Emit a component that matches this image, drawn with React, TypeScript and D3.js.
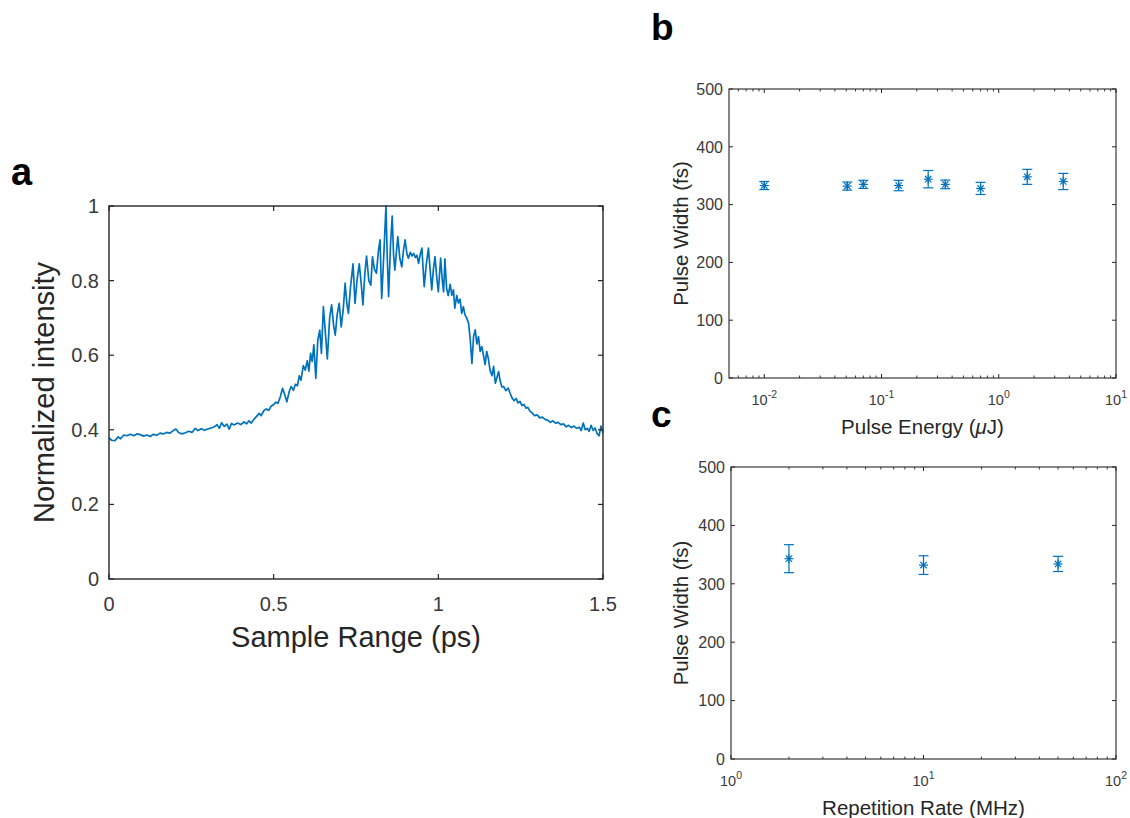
import React from "react";
import * as d3 from "d3";

// ---------- Panel a: autocorrelation trace ----------
const traceX = [
  0.000, 0.008, 0.018, 0.028, 0.035, 0.045, 0.055, 0.065, 0.075, 0.085,
  0.095, 0.105, 0.115, 0.125, 0.135, 0.145, 0.155, 0.165, 0.175, 0.185,
  0.195, 0.203, 0.212, 0.222, 0.232, 0.242, 0.252, 0.262, 0.270, 0.280,
  0.290, 0.300, 0.310, 0.320, 0.328, 0.335, 0.342, 0.350, 0.358, 0.365,
  0.372, 0.380, 0.390, 0.400, 0.410, 0.418, 0.425, 0.432, 0.440, 0.448,
  0.456, 0.462, 0.470, 0.478, 0.485, 0.492, 0.500, 0.507, 0.513, 0.520,
  0.527, 0.533, 0.540, 0.547, 0.553, 0.560, 0.566, 0.572, 0.578, 0.583,
  0.590, 0.596, 0.602, 0.607, 0.612, 0.617, 0.622, 0.628, 0.634, 0.640,
  0.645, 0.651, 0.657, 0.663, 0.670, 0.676, 0.682, 0.687, 0.693, 0.699,
  0.705, 0.711, 0.717, 0.722, 0.727, 0.733, 0.741, 0.747, 0.753, 0.760,
  0.766, 0.771, 0.777, 0.782, 0.789, 0.795, 0.800, 0.806, 0.812, 0.818,
  0.823, 0.828, 0.835, 0.841, 0.845, 0.849, 0.855, 0.860, 0.864, 0.868,
  0.873, 0.877, 0.883, 0.889, 0.894, 0.899, 0.905, 0.909, 0.915, 0.920,
  0.925, 0.930, 0.935, 0.940, 0.945, 0.950, 0.957, 0.963, 0.970, 0.975,
  0.980, 0.985, 0.990, 0.995, 1.000, 1.007, 1.012, 1.016, 1.020, 1.025,
  1.030, 1.036, 1.041, 1.046, 1.050, 1.056, 1.061, 1.066, 1.071, 1.076,
  1.081, 1.086, 1.092, 1.097, 1.102, 1.107, 1.112, 1.117, 1.122, 1.127,
  1.132, 1.137, 1.142, 1.147, 1.152, 1.157, 1.163, 1.168, 1.173, 1.178,
  1.183, 1.188, 1.193, 1.198, 1.205, 1.212, 1.218, 1.224, 1.230, 1.236,
  1.242, 1.248, 1.254, 1.260, 1.266, 1.272, 1.278, 1.285, 1.292, 1.300,
  1.308, 1.316, 1.324, 1.332, 1.340, 1.348, 1.356, 1.364, 1.372, 1.380,
  1.388, 1.396, 1.404, 1.412, 1.420, 1.428, 1.434, 1.440, 1.446, 1.452,
  1.458, 1.464, 1.470, 1.476, 1.482, 1.488, 1.494, 1.500,
];
const traceY = [
  0.378, 0.372, 0.371, 0.381, 0.376, 0.386, 0.384, 0.388, 0.384, 0.389,
  0.387, 0.383, 0.386, 0.382, 0.388, 0.385, 0.391, 0.389, 0.393, 0.391,
  0.398, 0.402, 0.392, 0.389, 0.392, 0.396, 0.393, 0.404, 0.398, 0.403,
  0.399, 0.402, 0.405, 0.408, 0.414, 0.404, 0.419, 0.409, 0.415, 0.402,
  0.417, 0.413, 0.418, 0.414, 0.421, 0.416, 0.424, 0.418, 0.428, 0.436,
  0.444, 0.438, 0.451, 0.456, 0.452, 0.463, 0.468, 0.474, 0.471, 0.488,
  0.511, 0.496, 0.475, 0.502, 0.516, 0.506, 0.522, 0.518, 0.545, 0.533,
  0.572, 0.560, 0.585, 0.557, 0.605, 0.583, 0.628, 0.538, 0.640, 0.667,
  0.605, 0.730, 0.660, 0.590, 0.700, 0.735, 0.680, 0.654, 0.710, 0.739,
  0.676, 0.720, 0.793, 0.740, 0.712, 0.780, 0.845, 0.739, 0.800, 0.845,
  0.790, 0.735, 0.820, 0.866, 0.800, 0.788, 0.864, 0.830, 0.820, 0.880,
  0.909, 0.752, 0.880, 1.000, 0.860, 0.757, 0.900, 0.973, 0.870, 0.828,
  0.880, 0.918, 0.860, 0.837, 0.880, 0.909, 0.870, 0.860, 0.876, 0.866,
  0.873, 0.862, 0.868, 0.846, 0.870, 0.887, 0.784, 0.840, 0.887, 0.830,
  0.775, 0.830, 0.864, 0.810, 0.770, 0.860, 0.800, 0.770, 0.858, 0.780,
  0.760, 0.790, 0.761, 0.775, 0.726, 0.760, 0.740, 0.750, 0.712, 0.730,
  0.708, 0.700, 0.685, 0.640, 0.578, 0.650, 0.668, 0.630, 0.650, 0.610,
  0.623, 0.600, 0.575, 0.610, 0.590, 0.560, 0.545, 0.570, 0.525, 0.540,
  0.556, 0.530, 0.515, 0.516, 0.505, 0.512, 0.498, 0.485, 0.478, 0.484,
  0.472, 0.476, 0.465, 0.468, 0.458, 0.460, 0.450, 0.445, 0.438, 0.440,
  0.432, 0.434, 0.428, 0.426, 0.420, 0.424, 0.418, 0.420, 0.414, 0.416,
  0.408, 0.412, 0.406, 0.410, 0.404, 0.407, 0.398, 0.418, 0.400, 0.404,
  0.396, 0.412, 0.398, 0.405, 0.390, 0.384, 0.410, 0.392,
];
const aXTicks = [0, 0.5, 1, 1.5];
const aXTickLabels = ["0", "0.5", "1", "1.5"];
const aYTicks = [0, 0.2, 0.4, 0.6, 0.8, 1];
const aYTickLabels = ["0", "0.2", "0.4", "0.6", "0.8", "1"];

// ---------- Panel b: pulse width vs pulse energy ----------
const energyUJ = [0.01, 0.051, 0.07, 0.14, 0.25, 0.35, 0.7, 1.75, 3.55];
const energyWidthFs = [333, 332, 335, 333, 344, 335, 328, 348, 340];
const energyErrFs = [7, 7, 7, 9, 15, 7.5, 10.5, 13, 14];

// ---------- Panel c: pulse width vs repetition rate ----------
const repRateMHz = [2, 10, 50];
const repWidthFs = [343, 332, 334];
const repErrFs = [24, 16, 13];

const widthTicks = [0, 100, 200, 300, 400, 500];
const bXDecades = [-2, -1, 0, 1];
const cXDecades = [0, 1, 2];

const BLUE = "#0072BD";
const AXIS = "#262626";
const TICKTXT = "#3a3a3a";
const FONT = "'Liberation Sans', Arial, Helvetica, sans-serif";

function PanelA() {
  const x = d3.scaleLinear().domain([0, 1.5]).range([109, 603]);
  const y = d3.scaleLinear().domain([0, 1]).range([579, 206]);
  const pts: [number, number][] = traceX.map((v, i) => [v, traceY[i]]);
  const line = d3
    .line<[number, number]>()
    .x((d) => x(d[0]))
    .y((d) => y(d[1]));
  const [x0, x1] = x.range();
  const [y0, y1] = y.range();
  const tl = 5;
  return (
    <g>
      <path d={line(pts) || ""} fill="none" stroke={BLUE} strokeWidth={1.7} strokeLinejoin="round" />
      <rect x={x0} y={y1} width={x1 - x0} height={y0 - y1} fill="none" stroke={AXIS} strokeWidth={1.4} />
      {aXTicks.map((t, i) => (
        <g key={"ax" + i}>
          <line x1={x(t)} x2={x(t)} y1={y0} y2={y0 - tl} stroke={AXIS} strokeWidth={1.2} />
          <line x1={x(t)} x2={x(t)} y1={y1} y2={y1 + tl} stroke={AXIS} strokeWidth={1.2} />
          <text x={x(t)} y={611} textAnchor="middle" fontSize={20} fill={TICKTXT} fontFamily={FONT}>
            {aXTickLabels[i]}
          </text>
        </g>
      ))}
      {aYTicks.map((t, i) => (
        <g key={"ay" + i}>
          <line x1={x0} x2={x0 + tl} y1={y(t)} y2={y(t)} stroke={AXIS} strokeWidth={1.2} />
          <line x1={x1} x2={x1 - tl} y1={y(t)} y2={y(t)} stroke={AXIS} strokeWidth={1.2} />
          <text x={99} y={y(t)} dy="0.35em" textAnchor="end" fontSize={20} fill={TICKTXT} fontFamily={FONT}>
            {aYTickLabels[i]}
          </text>
        </g>
      ))}
      <text x={(x0 + x1) / 2} y={647} textAnchor="middle" fontSize={29} fill={AXIS} fontFamily={FONT}>
        Sample Range (ps)
      </text>
      <text
        transform={`translate(54,${(y0 + y1) / 2}) rotate(-90)`}
        textAnchor="middle"
        fontSize={29}
        fill={AXIS}
        fontFamily={FONT}
      >
        Normalized intensity
      </text>
      <text x={11} y={185} fontSize={38} fontWeight="bold" fill="#000" fontFamily={FONT}>
        a
      </text>
    </g>
  );
}

type LogPanelProps = {
  domain: [number, number];
  xr: [number, number];
  yr: [number, number];
  decades: number[];
  xs: number[];
  vals: number[];
  errs: number[];
  xLabel: React.ReactNode;
  letter: string;
  letterY: number;
};

function LogPanel(p: LogPanelProps) {
  const x = d3.scaleLog().domain(p.domain).range(p.xr);
  const y = d3.scaleLinear().domain([0, 500]).range(p.yr);
  const [x0, x1] = p.xr;
  const [y0, y1] = p.yr;
  const lo = Math.floor(Math.log10(p.domain[0]));
  const hi = Math.ceil(Math.log10(p.domain[1]));
  const minor: number[] = [];
  for (let e = lo; e < hi; e++) {
    for (let m = 2; m <= 9; m++) {
      const v = m * Math.pow(10, e);
      if (v > p.domain[0] && v < p.domain[1]) minor.push(v);
    }
  }
  const tl = 4;
  const cap = 5;
  const ms = 4.5;
  return (
    <g>
      {p.xs.map((v, i) => {
        const cx = x(v);
        const cy = y(p.vals[i]);
        const ytop = y(p.vals[i] + p.errs[i]);
        const ybot = y(p.vals[i] - p.errs[i]);
        const d45 = ms * Math.SQRT1_2;
        return (
          <g key={"pt" + i} stroke={BLUE} strokeWidth={1.2} fill="none">
            <line x1={cx} x2={cx} y1={ytop} y2={ybot} />
            <line x1={cx - cap} x2={cx + cap} y1={ytop} y2={ytop} />
            <line x1={cx - cap} x2={cx + cap} y1={ybot} y2={ybot} />
            <line x1={cx - ms} x2={cx + ms} y1={cy} y2={cy} />
            <line x1={cx} x2={cx} y1={cy - ms} y2={cy + ms} />
            <line x1={cx - d45} x2={cx + d45} y1={cy - d45} y2={cy + d45} />
            <line x1={cx - d45} x2={cx + d45} y1={cy + d45} y2={cy - d45} />
          </g>
        );
      })}
      <rect x={x0} y={y1} width={x1 - x0} height={y0 - y1} fill="none" stroke={AXIS} strokeWidth={1.1} />
      {minor.map((v, i) => (
        <g key={"mn" + i}>
          <line x1={x(v)} x2={x(v)} y1={y0} y2={y0 - 2.5} stroke={AXIS} strokeWidth={0.9} />
          <line x1={x(v)} x2={x(v)} y1={y1} y2={y1 + 2.5} stroke={AXIS} strokeWidth={0.9} />
        </g>
      ))}
      {p.decades.map((e) => {
        const v = Math.pow(10, e);
        return (
          <g key={"dc" + e}>
            <line x1={x(v)} x2={x(v)} y1={y0} y2={y0 - tl} stroke={AXIS} strokeWidth={1} />
            <line x1={x(v)} x2={x(v)} y1={y1} y2={y1 + tl} stroke={AXIS} strokeWidth={1} />
            <text x={x(v)} y={y0 + 27} textAnchor="middle" fontSize={14.5} fill={TICKTXT} fontFamily={FONT}>
              10
              <tspan fontSize={10.5} dy={-7}>
                {String(e)}
              </tspan>
            </text>
          </g>
        );
      })}
      {widthTicks.map((t) => (
        <g key={"wt" + t}>
          <line x1={x0} x2={x0 + tl} y1={y(t)} y2={y(t)} stroke={AXIS} strokeWidth={1} />
          <line x1={x1} x2={x1 - tl} y1={y(t)} y2={y(t)} stroke={AXIS} strokeWidth={1} />
          <text x={x0 - 6} y={y(t)} dy="0.36em" textAnchor="end" fontSize={16} fill={TICKTXT} fontFamily={FONT}>
            {t}
          </text>
        </g>
      ))}
      <text
        transform={`translate(688,${(y0 + y1) / 2}) rotate(-90)`}
        textAnchor="middle"
        fontSize={20.5}
        fill={AXIS}
        fontFamily={FONT}
      >
        Pulse Width (fs)
      </text>
      <text x={(x0 + x1) / 2} y={y0 + 56} textAnchor="middle" fontSize={20.5} fill={AXIS} fontFamily={FONT}>
        {p.xLabel}
      </text>
      <text x={651} y={p.letterY} fontSize={37} fontWeight="bold" fill="#000" fontFamily={FONT}>
        {p.letter}
      </text>
    </g>
  );
}

export default function App() {
  return (
    <div style={{ position: "absolute", left: 0, top: 0, background: "#fff" }}>
      <svg width={1130} height={818} viewBox="0 0 1130 818" style={{ display: "block" }}>
        <rect width={1130} height={818} fill="#fff" />
        <PanelA />
        <LogPanel
          domain={[0.005, 10]}
          xr={[729, 1116]}
          yr={[378, 89]}
          decades={bXDecades}
          xs={energyUJ}
          vals={energyWidthFs}
          errs={energyErrFs}
          xLabel={
            <>
              Pulse Energy (<tspan fontStyle="italic">μ</tspan>J)
            </>
          }
          letter="b"
          letterY={40}
        />
        <LogPanel
          domain={[1, 100]}
          xr={[731, 1116]}
          yr={[759, 467]}
          decades={cXDecades}
          xs={repRateMHz}
          vals={repWidthFs}
          errs={repErrFs}
          xLabel={"Repetition Rate (MHz)"}
          letter="c"
          letterY={427}
        />
      </svg>
    </div>
  );
}
